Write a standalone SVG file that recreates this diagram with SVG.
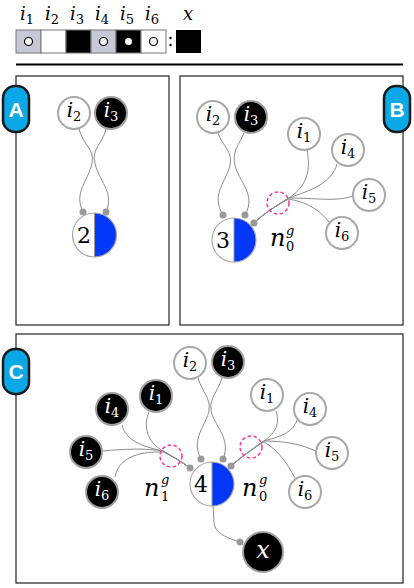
<svg xmlns="http://www.w3.org/2000/svg" width="414" height="588" viewBox="0 0 414 588">
<defs>
<style type="text/css">
.panel{fill:#fff;stroke:#222;stroke-width:1.2}
.badge{fill:#0aa8e6;stroke:#1a1a1a;stroke-width:2.5}
.bl{font-family:'Liberation Sans',Arial,sans-serif;font-weight:bold;font-size:21px;fill:#fff;text-anchor:middle}
.wn{fill:#fff;stroke:#a8a8a8;stroke-width:2}
.bn{fill:#000;stroke:#a0a0a0;stroke-width:2}
text.lab{font-family:'DejaVu Serif','Liberation Serif',serif;font-style:italic;font-size:20px;text-anchor:middle}
tspan.sub{font-style:normal;font-size:13px}
.wt{fill:#000}
.bt{fill:#fff}
.edge{fill:none;stroke:#8c8c8c;stroke-width:1}
.dot{fill:#999}
.pink{fill:none;stroke:#ff3399;stroke-width:1.5;stroke-dasharray:3.5 2.5}
.blue{fill:#0438f8}
text.num{font-family:'DejaVu Serif','Liberation Serif',serif;font-size:22px;text-anchor:middle;fill:#000}
text.nl{font-family:'DejaVu Serif','Liberation Serif',serif;font-style:italic;font-size:24px;fill:#000}
text.ns{font-family:'DejaVu Serif','Liberation Serif',serif;font-size:13px;fill:#000}
.cell{stroke:#777;stroke-width:1}
text.hl{font-family:'DejaVu Serif','Liberation Serif',serif;font-style:italic;font-size:18px;text-anchor:middle;fill:#000}
</style>
</defs>

<g id="header">
  <text class="hl" x="27" y="20">i<tspan class="sub" dy="4">1</tspan></text>
  <text class="hl" x="52" y="20">i<tspan class="sub" dy="4">2</tspan></text>
  <text class="hl" x="77" y="20">i<tspan class="sub" dy="4">3</tspan></text>
  <text class="hl" x="102" y="20">i<tspan class="sub" dy="4">4</tspan></text>
  <text class="hl" x="127" y="20">i<tspan class="sub" dy="4">5</tspan></text>
  <text class="hl" x="152" y="20">i<tspan class="sub" dy="4">6</tspan></text>
  <text class="hl" x="188" y="20">x</text>
  <rect class="cell" x="16" y="30" width="25" height="23" fill="#c6c8d6"/>
  <rect class="cell" x="41" y="30" width="25" height="23" fill="#fff"/>
  <rect class="cell" x="66" y="30" width="25" height="23" fill="#000"/>
  <rect class="cell" x="91" y="30" width="25" height="23" fill="#c6c8d6"/>
  <rect class="cell" x="116" y="30" width="25" height="23" fill="#000"/>
  <rect class="cell" x="141" y="30" width="25" height="23" fill="#fff"/>
  <circle cx="28.5" cy="41.5" r="4" fill="#fff" stroke="#000" stroke-width="1.2"/>
  <circle cx="103.5" cy="41.5" r="4" fill="#fff" stroke="#000" stroke-width="1.2"/>
  <circle cx="128.5" cy="41.5" r="3.5" fill="#fff"/>
  <circle cx="153.5" cy="41.5" r="4" fill="#fff" stroke="#000" stroke-width="1.2"/>
  <circle cx="170.5" cy="38" r="1.2" fill="#000"/>
  <circle cx="170.5" cy="45" r="1.2" fill="#000"/>
  <rect x="176" y="30" width="25" height="23" fill="#000"/>
  <line x1="16" y1="64.5" x2="403" y2="64.5" stroke="#000" stroke-width="2"/>
</g>

<g id="panels">
  <rect class="panel" x="16" y="76" width="153" height="249"/>
  <rect class="panel" x="180" y="76" width="223" height="249"/>
  <rect class="panel" x="16" y="334" width="387" height="249"/>
</g>

<g id="connectors">
  <path class="edge" d="M79 129 C83 145 95 149 92 163 C89 180 73 192 83 212"/>
  <path class="edge" d="M106 129 C102 145 91 149 95 163 C98 180 115 192 106 212"/>
  <path class="edge" d="M218 133 C223 147 233 151 230 165 C227 181 210 194 223 215"/>
  <path class="edge" d="M244 133 C238 147 232 151 235 165 C238 181 257 194 245 215"/>
  <path class="edge" d="M307 150 C311 170 307 186 289 198 C279 204 263 214 254 223"/>
  <path class="edge" d="M337 164 C331 184 311 190 289 198 C279 204 263 214 254 223"/>
  <path class="edge" d="M353 196 C336 202 318 198 289 198 C279 204 263 214 254 223"/>
  <path class="edge" d="M329 222 C318 208 305 202 289 199 C279 204 263 214 254 223"/>
  <path class="edge" d="M198 378 C202 392 211 398 209 410 C207 425 190 438 201 459"/>
  <path class="edge" d="M222 378 C218 392 209 398 211 410 C213 425 232 438 223 459"/>
  <path class="edge" d="M213 506 C214 515 213 524 216 529 C222 537 232 539 240 542"/>
  <path class="edge" d="M276 411 C280 424 276 432 264 441 C255 447 240 458 231 466"/>
  <path class="edge" d="M298 418 C293 433 282 436 264 441 C255 447 240 458 231 466"/>
  <path class="edge" d="M316 451 C300 444 285 441 264 441 C255 447 240 458 231 466"/>
  <path class="edge" d="M295 478 C287 463 278 450 264 442 C255 447 240 458 231 466"/>
  <path class="edge" d="M149 412 C143 426 147 442 163 451 C172 456 182 462 190 468"/>
  <path class="edge" d="M122 425 C126 440 140 446 163 451 C172 456 182 462 190 468"/>
  <path class="edge" d="M102 451 C125 449 145 448 163 451 C172 456 182 462 190 468"/>
  <path class="edge" d="M115 477 C118 460 135 451 163 452 C172 456 182 462 190 468"/>
</g>

<g id="badge-A"><rect class="badge" x="3" y="86" width="26" height="46" rx="12"/><text class="bl" x="16" y="117">A</text></g>
<g id="badge-B"><rect class="badge" x="384" y="86" width="26" height="46" rx="12"/><text class="bl" x="397" y="117">B</text></g>
<g id="badge-C"><rect class="badge" x="3" y="349" width="26" height="45" rx="12"/><text class="bl" x="16" y="379">C</text></g>

<g id="A-i2"><circle class="wn" cx="74" cy="113" r="16"/><text class="lab wt" x="74" y="117">i<tspan class="sub" dy="4">2</tspan></text></g>
<g id="A-i3"><circle class="bn" cx="111" cy="113" r="16"/><text class="lab bt" x="111" y="117">i<tspan class="sub" dy="4">3</tspan></text></g>
<g id="A-n">
  <circle cx="94.5" cy="235" r="22" fill="#fff"/>
  <path class="blue" d="M94.5 213 A22 22 0 0 1 94.5 257 Z"/>
  <circle cx="94.5" cy="235" r="22" fill="none" stroke="#a8a8a8" stroke-width="1.2"/>
  <line x1="94.5" y1="213" x2="94.5" y2="257" stroke="#999" stroke-width="1"/>
  <text class="num" x="84" y="243">2</text>
  <circle class="dot" cx="83" cy="212" r="3.5"/><circle class="dot" cx="106" cy="212" r="3.5"/>
</g>

<g id="B-i2"><circle class="wn" cx="213" cy="117" r="16"/><text class="lab wt" x="213" y="121">i<tspan class="sub" dy="4">2</tspan></text></g>
<g id="B-i3"><circle class="bn" cx="251" cy="117" r="16"/><text class="lab bt" x="251" y="121">i<tspan class="sub" dy="4">3</tspan></text></g>
<g id="B-i1"><circle class="wn" cx="304" cy="134" r="16"/><text class="lab wt" x="304" y="138">i<tspan class="sub" dy="4">1</tspan></text></g>
<g id="B-i4"><circle class="wn" cx="348" cy="150" r="16"/><text class="lab wt" x="348" y="154">i<tspan class="sub" dy="4">4</tspan></text></g>
<g id="B-i5"><circle class="wn" cx="369" cy="195" r="16"/><text class="lab wt" x="369" y="199">i<tspan class="sub" dy="4">5</tspan></text></g>
<g id="B-i6"><circle class="wn" cx="342" cy="233" r="16"/><text class="lab wt" x="342" y="237">i<tspan class="sub" dy="4">6</tspan></text></g>
<g id="B-g0"><circle class="pink" cx="278" cy="203" r="11"/>
  <text class="nl" x="270" y="246">n</text><text class="ns" x="286" y="235" font-style="italic">g</text><text class="ns" x="286" y="251">0</text></g>
<g id="B-n">
  <circle cx="234" cy="240" r="22" fill="#fff"/>
  <path class="blue" d="M234 218 A22 22 0 0 1 234 262 Z"/>
  <circle cx="234" cy="240" r="22" fill="none" stroke="#a8a8a8" stroke-width="1.2"/>
  <line x1="234" y1="218" x2="234" y2="262" stroke="#999" stroke-width="1"/>
  <text class="num" x="223" y="248">3</text>
  <circle class="dot" cx="223" cy="215" r="3.5"/><circle class="dot" cx="245" cy="215" r="3.5"/><circle class="dot" cx="254" cy="223" r="3.5"/>
</g>

<g id="C-i2"><circle class="wn" cx="190" cy="363" r="16"/><text class="lab wt" x="190" y="367">i<tspan class="sub" dy="4">2</tspan></text></g>
<g id="C-i3"><circle class="bn" cx="228" cy="362" r="16"/><text class="lab bt" x="228" y="366">i<tspan class="sub" dy="4">3</tspan></text></g>
<g id="C-L-i1"><circle class="bn" cx="156" cy="396" r="16"/><text class="lab bt" x="156" y="400">i<tspan class="sub" dy="4">1</tspan></text></g>
<g id="C-L-i4"><circle class="bn" cx="112" cy="409" r="16"/><text class="lab bt" x="112" y="413">i<tspan class="sub" dy="4">4</tspan></text></g>
<g id="C-L-i5"><circle class="bn" cx="86" cy="452" r="16"/><text class="lab bt" x="86" y="456">i<tspan class="sub" dy="4">5</tspan></text></g>
<g id="C-L-i6"><circle class="bn" cx="102" cy="492" r="16"/><text class="lab bt" x="102" y="496">i<tspan class="sub" dy="4">6</tspan></text></g>
<g id="C-R-i1"><circle class="wn" cx="267" cy="395" r="16"/><text class="lab wt" x="267" y="399">i<tspan class="sub" dy="4">1</tspan></text></g>
<g id="C-R-i4"><circle class="wn" cx="310" cy="409" r="16"/><text class="lab wt" x="310" y="413">i<tspan class="sub" dy="4">4</tspan></text></g>
<g id="C-R-i5"><circle class="wn" cx="332" cy="453" r="16"/><text class="lab wt" x="332" y="457">i<tspan class="sub" dy="4">5</tspan></text></g>
<g id="C-R-i6"><circle class="wn" cx="305" cy="492" r="16"/><text class="lab wt" x="305" y="496">i<tspan class="sub" dy="4">6</tspan></text></g>
<g id="C-x"><circle class="bn" cx="263" cy="552" r="20"/><text class="lab bt" x="263" y="558" style="font-size:24px">x</text></g>
<g id="C-g1"><circle class="pink" cx="171" cy="456" r="11"/>
  <text class="nl" x="144" y="496">n</text><text class="ns" x="161" y="484" font-style="italic">g</text><text class="ns" x="161" y="501">1</text></g>
<g id="C-g0"><circle class="pink" cx="251" cy="447" r="11"/>
  <text class="nl" x="242" y="496">n</text><text class="ns" x="259" y="484" font-style="italic">g</text><text class="ns" x="259" y="501">0</text></g>
<g id="C-n">
  <circle cx="212" cy="484" r="22" fill="#fff"/>
  <path class="blue" d="M212 462 A22 22 0 0 1 212 506 Z"/>
  <circle cx="212" cy="484" r="22" fill="none" stroke="#a8a8a8" stroke-width="1.2"/>
  <line x1="212" y1="462" x2="212" y2="506" stroke="#999" stroke-width="1"/>
  <text class="num" x="201" y="492">4</text>
  <circle class="dot" cx="190" cy="468" r="3.5"/><circle class="dot" cx="201" cy="459" r="3.5"/>
  <circle class="dot" cx="223" cy="459" r="3.5"/><circle class="dot" cx="231" cy="466" r="3.5"/>
  <circle class="dot" cx="240" cy="542" r="3.5"/>
</g>
</svg>
